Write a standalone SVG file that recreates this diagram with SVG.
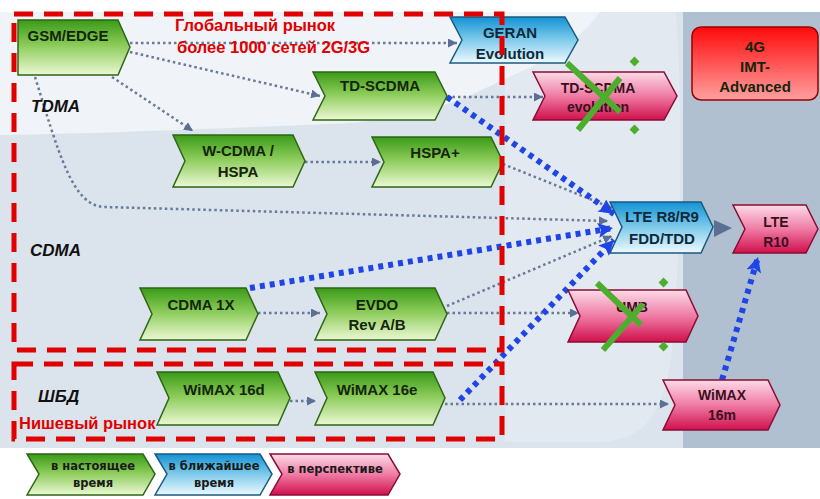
<svg xmlns="http://www.w3.org/2000/svg" width="820" height="499" viewBox="0 0 820 499">
<defs>
<linearGradient id="gG" x1="0" y1="0" x2="0" y2="1"><stop offset="0" stop-color="#3a9a18"/><stop offset="0.45" stop-color="#8acb58"/><stop offset="1" stop-color="#ecf8d4"/></linearGradient>
<linearGradient id="gB" x1="0" y1="0" x2="0" y2="1"><stop offset="0" stop-color="#1392d4"/><stop offset="0.5" stop-color="#80cbeb"/><stop offset="1" stop-color="#eef9fe"/></linearGradient>
<linearGradient id="gP" x1="0" y1="0" x2="0" y2="1"><stop offset="0" stop-color="#fcdbe7"/><stop offset="0.5" stop-color="#ef7ba4"/><stop offset="1" stop-color="#d0104d"/></linearGradient>
<linearGradient id="gR" x1="0" y1="0" x2="0" y2="1"><stop offset="0" stop-color="#ff0a0a"/><stop offset="1" stop-color="#ffa0a0"/></linearGradient>
<marker id="ag" viewBox="0 0 10 10" refX="10" refY="5" markerWidth="9" markerHeight="9" markerUnits="userSpaceOnUse" orient="auto"><path d="M0,0 L10,5 L0,10 Z" fill="#5b6f92"/></marker>
<marker id="ab" viewBox="0 0 10 10" refX="10" refY="5" markerWidth="17" markerHeight="15" markerUnits="userSpaceOnUse" orient="auto"><path d="M0,0 L10,5 L0,10 L2,5 Z" fill="#1f45e6"/></marker>
<style>
.g{fill:url(#gG);stroke:#2d6614;stroke-width:1.5}
.b{fill:url(#gB);stroke:#1a5a80;stroke-width:1.5}
.p{fill:url(#gP);stroke:#8a0c33;stroke-width:1.5}
.t{font-family:"Liberation Sans",Arial,sans-serif;font-weight:bold;font-size:15px;fill:#15250c;text-anchor:middle}
.tp{font-family:"Liberation Sans",Arial,sans-serif;font-weight:bold;font-size:14px;fill:#3a1020;text-anchor:middle}
.tb{font-family:"Liberation Sans",Arial,sans-serif;font-weight:bold;font-size:15px;fill:#0d2a3a;text-anchor:middle}
.lab{font-family:"Liberation Sans",Arial,sans-serif;font-weight:bold;font-style:italic;font-size:17px;fill:#111}
.red{font-family:"Liberation Sans",Arial,sans-serif;font-weight:bold;font-size:16.5px;fill:#e00000}
.lg{font-family:"DejaVu Sans",Verdana,sans-serif;font-weight:bold;font-size:11.5px;fill:#1a1a1a;text-anchor:middle}
.gl{fill:none;stroke:#687a98;stroke-width:2.5;stroke-dasharray:2.5 3}
.bl{fill:none;stroke:#1f45e6;stroke-width:6;stroke-dasharray:5 5}
.rd{fill:none;stroke:#e00000;stroke-width:5;stroke-dasharray:19 11}
.x{stroke:#4cae2c;stroke-width:6;fill:none}
.hd{fill:#4cae2c}
</style>
</defs>
<g id="background">
<rect x="0" y="12" width="820" height="436" fill="#dbe3ec"/>
<path d="M505,12 H676 C684,120 680,260 672,350 C664,420 640,440 600,442 L505,442 Z" fill="#e3e9f0"/>
<path d="M0,12 H600 C580,40 545,62 520,72 C470,95 430,120 330,124 C250,127 120,133 0,135 Z" fill="#f0f3f7"/>
<rect x="683" y="12" width="137" height="436" fill="#b1c0d0"/>
</g>
<g id="connectors">
<path class="gl" d="M130,43 H457" marker-end="url(#ag)"/>
<path class="gl" d="M130,52 L320,96" marker-end="url(#ag)"/>
<path class="gl" d="M112,77 L193,131" marker-end="url(#ag)"/>
<path class="gl" d="M35,77 C58,150 72,207 105,207 L608,221" marker-end="url(#ag)"/>
<path class="gl" d="M305,162 H381" marker-end="url(#ag)"/>
<path class="gl" d="M447,97 H543" marker-end="url(#ag)"/>
<path class="gl" d="M503,164 L612,208" marker-end="url(#ag)"/>
<path class="gl" d="M258,313 H320" marker-end="url(#ag)"/>
<path class="gl" d="M447,306 L612,236" marker-end="url(#ag)"/>
<path class="gl" d="M447,313 H579" marker-end="url(#ag)"/>
<path class="gl" d="M290,401 H316" marker-end="url(#ag)"/>
<path class="gl" d="M445,404 H669" marker-end="url(#ag)"/>
<path d="M714,220 L732,228 L714,237 Z" fill="#5b6f92"/>
<path class="bl" d="M447,97 L614,214" marker-end="url(#ab)"/>
<path class="bl" d="M250,288 L613,228" marker-end="url(#ab)"/>
<path class="bl" d="M460,400 L614,240" marker-end="url(#ab)"/>
<path class="bl" d="M722,380 L758,257" marker-end="url(#ab)"/>
</g>
<g id="n-gsm"><polygon class="g" points="18,20 118,20 130,47 118,75 18,75"/><text class="t" x="68" y="41">GSM/EDGE</text></g>
<g id="n-geran"><polygon class="b" points="450,17 565,17 578,40 565,63 450,63 462,40"/><text class="tb" x="510" y="38">GERAN</text><text class="tb" x="510" y="59">Evolution</text></g>
<g id="n-tdscdma"><polygon class="g" points="313,72 435,72 447,96 435,120 313,120 325,96"/><text class="t" x="380" y="91">TD-SCDMA</text></g>
<g id="n-tdevo"><polygon class="p" points="533,72 664,72 677,96 664,120 533,120 545,96"/><text class="tp" x="598" y="93">TD-SCDMA</text><text class="tp" x="598" y="112">evolution</text>
<path class="x" d="M567,63 L620,112 M620,78 L578,130"/><rect class="hd" x="631" y="58" width="7" height="7" transform="rotate(45 634.5 61.5)"/><rect class="hd" x="631" y="126" width="7" height="7" transform="rotate(45 634.5 129.5)"/></g>
<g id="n-4g"><rect x="692" y="27" width="126" height="73" rx="9" fill="url(#gR)" stroke="#9a0000" stroke-width="1.5"/><text class="t" x="755" y="52">4G</text><text class="t" x="755" y="72">IMT-</text><text class="t" x="755" y="92">Advanced</text></g>
<g id="n-wcdma"><polygon class="g" points="173,135 293,135 305,161 293,187 173,187 185,161"/><text class="t" x="238" y="156">W-CDMA /</text><text class="t" x="238" y="177">HSPA</text></g>
<g id="n-hspa"><polygon class="g" points="372,137 491,137 503,162 491,187 372,187 384,162"/><text class="t" x="435" y="158">HSPA+</text></g>
<g id="n-lte"><polygon class="b" points="610,202 701,202 713,227 701,253 610,253 622,227"/><text class="tb" x="662" y="222">LTE R8/R9</text><text class="tb" x="662" y="244">FDD/TDD</text></g>
<g id="n-lte10"><polygon class="p" points="733,205 806,205 818,229 806,253 733,253 745,229"/><text class="tp" x="776" y="227">LTE</text><text class="tp" x="776" y="247">R10</text></g>
<g id="n-cdma1x"><polygon class="g" points="140,288 246,288 258,314 246,340 140,340 152,314"/><text class="t" x="201" y="310">CDMA 1X</text></g>
<g id="n-evdo"><polygon class="g" points="315,288 435,288 447,314 435,340 315,340 327,314"/><text class="t" x="377" y="310">EVDO</text><text class="t" x="377" y="330">Rev A/B</text></g>
<g id="n-umb"><polygon class="p" points="568,290 686,290 698,316 686,342 568,342 580,316"/><text class="tp" x="632" y="312">UMB</text>
<path class="x" d="M597,283 L641,325 M643,304 L603,350"/><rect class="hd" x="660" y="279" width="7" height="7" transform="rotate(45 663.5 282.5)"/><rect class="hd" x="660" y="343" width="7" height="7" transform="rotate(45 663.5 346.5)"/></g>
<g id="n-wimax16d"><polygon class="g" points="157,372 278,372 290,398 278,425 157,425 169,398"/><text class="t" x="224" y="395">WiMAX 16d</text></g>
<g id="n-wimax16e"><polygon class="g" points="315,372 433,372 445,398 433,425 315,425 327,398"/><text class="t" x="377" y="395">WiMAX 16e</text></g>
<g id="n-wimax16m"><polygon class="p" points="663,380 768,380 780,405 768,430 663,430 675,405"/><text class="tp" x="722" y="400">WiMAX</text><text class="tp" x="722" y="420">16m</text></g>
<g id="regions">
<path class="rd" d="M14,14 H502 V350 H14 Z"/>
<path class="rd" d="M14,364 H502 V439 H14 Z"/>
</g>
<g id="labels">
<text class="lab" x="31" y="112">TDMA</text>
<text class="lab" x="30" y="256">CDMA</text>
<text class="lab" x="38" y="402">ШБД</text>
<text class="red" x="175" y="31">Глобальный рынок</text>
<text class="red" x="177" y="53">более 1000 сетей 2G/3G</text>
<text class="red" x="19" y="429">Нишевый рынок</text>
</g>
<g id="legend">
<g id="lg-now"><polygon class="g" points="27,454 143,454 155,474 143,495 27,495 39,474"/><text class="lg" x="93" y="470">в настоящее</text><text class="lg" x="93" y="487">время</text></g>
<g id="lg-near"><polygon class="b" points="155,454 260,454 272,474 260,495 155,495 167,474"/><text class="lg" x="214" y="470">в ближайшее</text><text class="lg" x="214" y="487">время</text></g>
<g id="lg-future"><polygon class="p" points="270,454 388,454 400,474 388,495 270,495 282,474"/><text class="lg" x="335" y="473">в перспективе</text></g>
</g>
</svg>
